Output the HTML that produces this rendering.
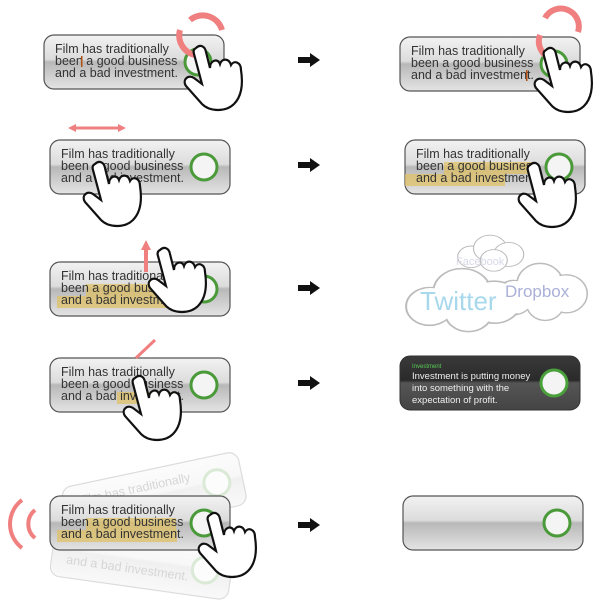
<!DOCTYPE html>
<html><head><style>body{margin:0;background:#fff}svg{display:block}</style></head><body>
<svg width="600" height="600" viewBox="0 0 600 600" xmlns="http://www.w3.org/2000/svg" font-family="Liberation Sans, Arial, sans-serif">
<defs>
<linearGradient id="pg" x1="0" y1="0" x2="0" y2="1">
<stop offset="0" stop-color="#f2f2f2"/><stop offset="0.45" stop-color="#dcdcdc"/><stop offset="0.5" stop-color="#b8b8b8"/><stop offset="1" stop-color="#e4e4e4"/></linearGradient>
<linearGradient id="dg" x1="0" y1="0" x2="0" y2="1">
<stop offset="0" stop-color="#3a3a3a"/><stop offset="0.45" stop-color="#2a2a2a"/><stop offset="0.5" stop-color="#555"/><stop offset="1" stop-color="#444"/></linearGradient>
<g id="panel"><rect x="0" y="0" width="180" height="54" rx="10" fill="url(#pg)" stroke="#555" stroke-width="1.2"/><circle cx="154" cy="27" r="13" fill="#f4f4f4" stroke="#4a9a3a" stroke-width="3"/></g>
<g id="hand"><path d="M0 0 C4 -4 9 -2 10 4 L14 20 C14 12 22 10 24 16 C26 10 33 10 35 17 C38 12 45 14 45 22 C47 35 46 48 38 56 C30 64 14 64 6 56 L-10 38 C-14 32 -8 26 -2 30 L6 36 L-2 6 C-3 3 -2 1 0 0 Z" fill="#fff" stroke="#111" stroke-width="2.2"/></g>
<g id="arr"><path d="M0 -3 H12 V-7 L22 0 L12 7 V3 H0 Z" fill="#111"/></g>
<g id="cloud"><circle cx="-25" cy="8" r="18"/><circle cx="0" cy="-6" r="22"/><circle cx="25" cy="4" r="20"/><circle cx="5" cy="14" r="18"/></g>
</defs>
<g font-size="12.5" fill="#333">
<!-- Row1 -->
<use href="#panel" x="44" y="35"/>
<text x="55" y="53">Film has traditionally</text><text x="55" y="65">been a good business</text><text x="55" y="77">and a bad investment.</text>
<rect x="81" y="56" width="1.5" height="11" fill="#b05010"/>
<path d="M190 20 A20 20 0 0 1 222 30" fill="none" stroke="#f08080" stroke-width="6"/>
<path d="M180 30 A20 20 0 0 0 195 55" fill="none" stroke="#f08080" stroke-width="6"/>
<use href="#hand" x="196" y="48"/>
<use href="#panel" x="400" y="37"/>
<text x="411" y="55">Film has traditionally</text><text x="411" y="67">been a good business</text><text x="411" y="79">and a bad investment.</text>
<rect x="526" y="70" width="1.5" height="11" fill="#b05010"/>
<path d="M545 18 A18 18 0 0 1 578 32" fill="none" stroke="#f08080" stroke-width="6"/>
<path d="M540 35 A18 18 0 0 0 550 58" fill="none" stroke="#f08080" stroke-width="6"/>
<use href="#hand" x="546" y="50"/>
<use href="#arr" x="298" y="60"/>
<!-- Row2 -->
<path d="M72 128 H122" stroke="#f08080" stroke-width="3"/><path d="M68 128 L76 124 V132Z M126 128 L118 124 V132Z" fill="#f08080"/>
<use href="#panel" x="50" y="140"/>
<text x="61" y="158">Film has traditionally</text><text x="61" y="170">been a good business</text><text x="61" y="182">and a bad investment.</text>
<use href="#hand" x="95" y="164"/>
<use href="#panel" x="405" y="140"/>
<rect x="444" y="162" width="92" height="12" fill="#e0c060" opacity="0.7"/><rect x="405" y="174" width="100" height="12" fill="#e0c060" opacity="0.7"/>
<text x="416" y="158">Film has traditionally</text><text x="416" y="170">been a good business</text><text x="416" y="182">and a bad investment.</text>
<use href="#hand" x="530" y="165"/>
<use href="#arr" x="298" y="165"/>
<!-- Row3 -->
<use href="#panel" x="50" y="262"/>
<rect x="86" y="284" width="90" height="12" fill="#e0c060" opacity="0.7"/><rect x="57" y="296" width="120" height="12" fill="#e0c060" opacity="0.7"/>
<text x="61" y="280">Film has traditionally</text><text x="61" y="292">been a good business</text><text x="61" y="304">and a bad investment.</text>
<path d="M146 272 V246" stroke="#f08080" stroke-width="4"/><path d="M141 250 L146 240 L151 250Z" fill="#f08080"/>
<use href="#hand" x="160" y="250"/>
<use href="#arr" x="298" y="288"/>
<g fill="#fff" stroke="#bbb" stroke-width="1.5">
<use href="#cloud" transform="translate(490 252) scale(0.75 0.6)"/>
<use href="#cloud" transform="translate(540 290) scale(1.05 0.95)"/>
<use href="#cloud" transform="translate(462 298) scale(1.3 1.05)"/>
</g>
<g fill="#fff"><use href="#cloud" transform="translate(540 290) scale(1.0 0.9)"/><use href="#cloud" transform="translate(462 298) scale(1.25 1.0)"/></g>
<text x="456" y="265" font-size="11" fill="#d8d8e8">Facebook</text>
<text x="420" y="310" font-size="26" fill="#a8d8ec">Twitter</text>
<text x="505" y="297" font-size="17" fill="#aab0d8">Dropbox</text>
<!-- Row4 -->
<use href="#panel" x="50" y="358"/>
<rect x="117" y="392" width="60" height="12" fill="#e0c060" opacity="0.7"/>
<text x="61" y="376">Film has traditionally</text><text x="61" y="388">been a good business</text><text x="61" y="400">and a bad investment.</text>
<path d="M136 358 L155 340" stroke="#f08080" stroke-width="3"/>
<use href="#hand" x="135" y="378"/>
<use href="#arr" x="298" y="383"/>
<rect x="400" y="356" width="180" height="54" rx="10" fill="url(#dg)" stroke="#333"/>
<circle cx="554" cy="383" r="13" fill="#f4f4f4" stroke="#4aa03a" stroke-width="3"/>
<text x="412" y="368" font-size="6" fill="#5c5">Investment</text>
<g font-size="9.5" fill="#eee"><text x="412" y="379">Investment is putting money</text><text x="412" y="391">into something with the</text><text x="412" y="403">expectation of profit.</text></g>
<!-- Row5 -->
<g opacity="0.2" transform="rotate(-12 150 500)"><use href="#panel" x="65" y="470"/><text x="80" y="490">Film has traditionally</text></g>
<g opacity="0.2" transform="rotate(8 150 540)"><use href="#panel" x="55" y="535"/><text x="70" y="575">and a bad investment.</text></g>
<use href="#panel" x="50" y="496"/>
<rect x="86" y="518" width="90" height="12" fill="#e0c060" opacity="0.7"/><rect x="57" y="530" width="120" height="12" fill="#e0c060" opacity="0.7"/>
<text x="61" y="514">Film has traditionally</text><text x="61" y="526">been a good business</text><text x="61" y="538">and a bad investment.</text>
<path d="M22 500 A30 30 0 0 0 22 548" fill="none" stroke="#f08080" stroke-width="4"/>
<path d="M35 510 A18 18 0 0 0 35 538" fill="none" stroke="#f08080" stroke-width="4"/>
<use href="#hand" x="210" y="515"/>
<use href="#arr" x="298" y="525"/>
<use href="#panel" x="403" y="496"/>
</g>
</svg>
</body></html>
